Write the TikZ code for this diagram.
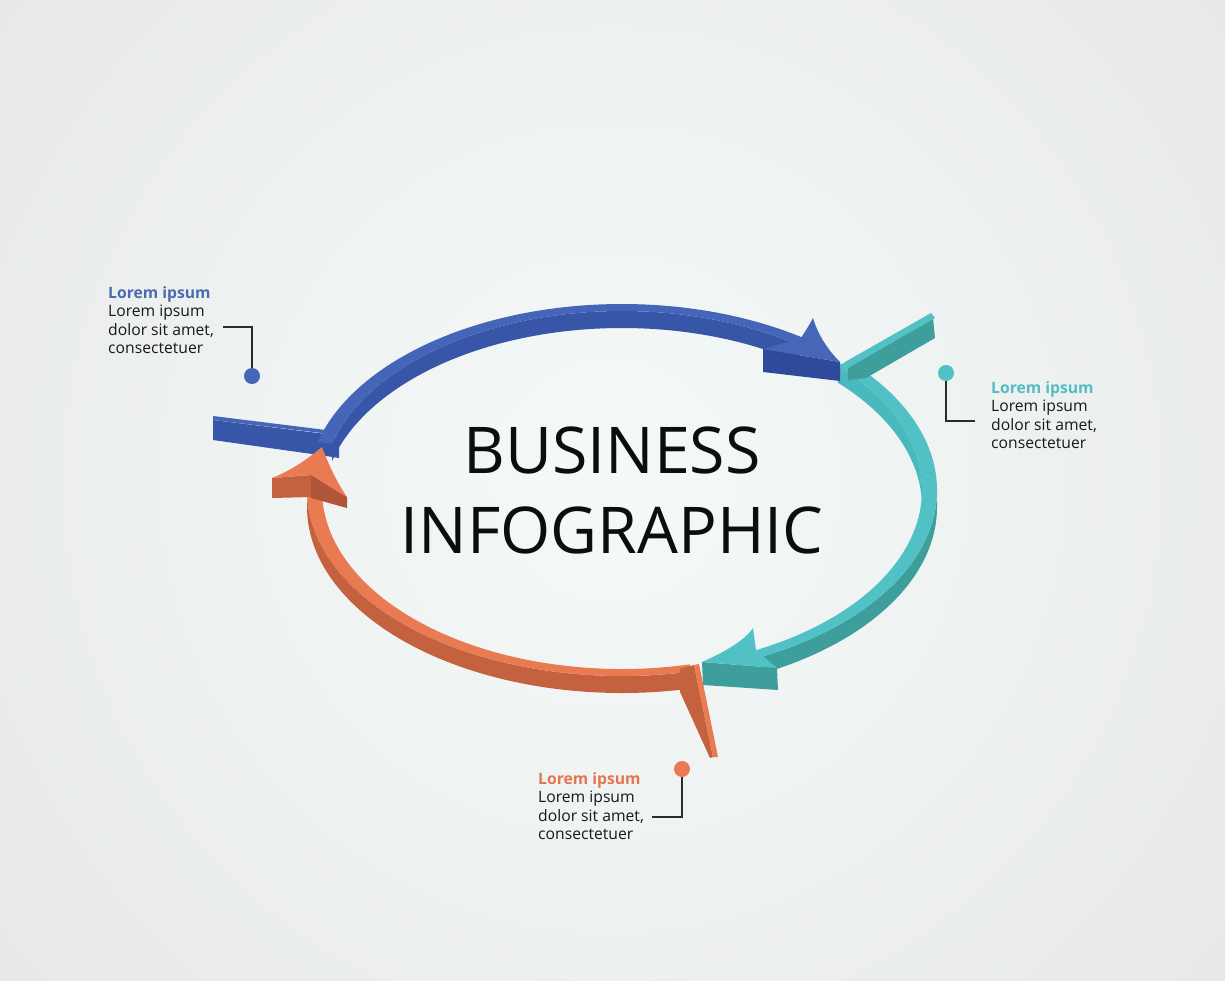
\documentclass[tikz,border=0pt]{standalone}
\usepackage{fontspec}
\setmainfont{Open Sans}
\usetikzlibrary{calc}
\definecolor{bgedge}{HTML}{E4E4E4}
\definecolor{bgc}{HTML}{F4FAF9}
\definecolor{bluetop}{HTML}{4565B9}
\definecolor{bluewall}{HTML}{3856A8}
\definecolor{bluedark}{HTML}{2F4A9A}
\definecolor{bluefin}{HTML}{4866B8}
\definecolor{bluelabel}{HTML}{4B6BB0}
\definecolor{tealtop}{HTML}{52C1C6}
\definecolor{tealin}{HTML}{4AB9BE}
\definecolor{tealwall}{HTML}{3E9E9C}
\definecolor{teallabel}{HTML}{55BCC2}
\definecolor{orgtop}{HTML}{E97A51}
\definecolor{orgwall}{HTML}{C4623F}
\definecolor{orgdark}{HTML}{B0553A}
\definecolor{orglabel}{HTML}{E5754F}
\definecolor{linec}{HTML}{2B2B2B}
\newcommand\ringtop[3]{\fill[#3] ($(C)+(#1:315pt and 186pt)$) arc[start angle=#1,end angle=#2,x radius=315pt,y radius=186pt] -- ($(C)+(#2:300pt and 179pt)$) arc[start angle=#2,end angle=#1,x radius=300pt,y radius=179pt] -- cycle;}
\newcommand\outerwall[3]{\fill[#3] ($(C)+(#1:315pt and 186pt)$) arc[start angle=#1,end angle=#2,x radius=315pt,y radius=186pt] -- ++(0,17) arc[start angle=#2,end angle=#1,x radius=315pt,y radius=186pt] -- cycle;}
\newcommand\innerwall[3]{\fill[#3] ($(C)+(#1:300pt and 179pt)$) arc[start angle=#1,end angle=#2,x radius=300pt,y radius=179pt] -- ++(0,17) arc[start angle=#2,end angle=#1,x radius=300pt,y radius=179pt] -- cycle;}
\begin{document}
\begin{tikzpicture}[x=1pt,y=-1pt,
  calltext/.style={anchor=north west,align=left,inner sep=0pt,font=\fontsize{15.7}{18.6}\selectfont,text=black!90},
  dotstyle/.style={circle,inner sep=0pt,minimum size=16pt},
  callline/.style={draw=linec,line width=1.3pt},
  title/.style={anchor=base,inner sep=0pt,font=\fontsize{64.5}{70}\selectfont,text=black!95}]
\useasboundingbox (0,0) rectangle (1225,980);
\fill[bgedge] (0,0) rectangle (1225,980);
\shade[inner color=bgc,outer color=bgedge] (612,480) circle[radius=1050pt];
\coordinate (C) at (622,490);
% blue tail
\fill[bluewall] (213,420) -- (326,434) -- (339,441) -- (339,458) -- (326,456) -- (213,440) -- cycle;
\fill[bluetop] (213,416) -- (326,430) -- (330,434) -- (213,420) -- cycle;
% orange ring
\outerwall{-185}{-77}{orgwall}
\ringtop{-185}{-77}{orgtop}
% orange tail
\fill[orgwall] (680,669) -- (694,665) -- (713,757) -- (710,758) -- (680,692) -- cycle;
\fill[orgtop] (694,665) -- (699,664) -- (718,757) -- (713,757) -- cycle;
% teal ring
\innerwall{0}{44}{tealin}
\outerwall{-64}{0}{tealwall}
\ringtop{-64}{44}{tealtop}
% teal tail
\fill[tealwall] (848,367) -- (933,318) -- (935,338) -- (866,378) -- (848,380) -- cycle;
\fill[tealtop] (845,362) -- (931,313) -- (935,318) -- (848,368) -- cycle;
% blue ring
\innerwall{54}{165}{bluewall}
\ringtop{54}{165}{bluetop}
% blue arrowhead
\fill[bluedark] (763,349) -- (840,362) -- (840,381) -- (763,372) -- cycle;
\fill[bluefin] (763,349) -- (801,338) .. controls (806,330) and (810,324) .. (813,318) .. controls (818,335) and (828,350) .. (840,362) -- cycle;
% teal arrowhead
\fill[tealwall] (702,662) -- (777,668) -- (778,690) -- (703,685) -- cycle;
\fill[tealtop] (702,662) .. controls (725,652) and (745,640) .. (753,628) -- (756,650) -- (777,668) -- cycle;
% orange arrowhead
\fill[orgwall] (272,478) -- (311,475) -- (311,497) -- (272,498) -- cycle;
\fill[orgdark] (311,475) -- (347,497) -- (347,508) -- (311,498) -- cycle;
\fill[orgtop] (322,447) .. controls (305,461) and (290,471) .. (272,478) -- (311,475) -- (347,497) .. controls (336,481) and (328,463) .. (322,447) -- cycle;
% title
\node[title] (t1) at (612,473) {BUSINESS};
\node[title] (t2) at (612,553) {INFOGRAPHIC};
% callouts
\coordinate (e1) at (223,327);
\coordinate (e2) at (975,421);
\coordinate (e3) at (652,817);
\node[dotstyle] (d1) at (252,376) {};
\node[dotstyle] (d2) at (946,373) {};
\node[dotstyle] (d3) at (682,769) {};
\draw[callline] (d1.center) |- (e1);
\draw[callline] (d2.center) |- (e2);
\draw[callline] (d3.center) |- (e3);
\fill[bluetop] (d1) circle[radius=8pt];
\fill[tealtop] (d2) circle[radius=8pt];
\fill[orgtop] (d3) circle[radius=8pt];
\node[calltext] (c1) at (108,286) {{\bfseries\color{bluelabel}Lorem ipsum}\\Lorem ipsum\\dolor sit amet,\\consectetuer};
\node[calltext] (c2) at (991,381) {{\bfseries\color{teallabel}Lorem ipsum}\\Lorem ipsum\\dolor sit amet,\\consectetuer};
\node[calltext] (c3) at (538,772) {{\bfseries\color{orglabel}Lorem ipsum}\\Lorem ipsum\\dolor sit amet,\\consectetuer};
\end{tikzpicture}
\end{document}
